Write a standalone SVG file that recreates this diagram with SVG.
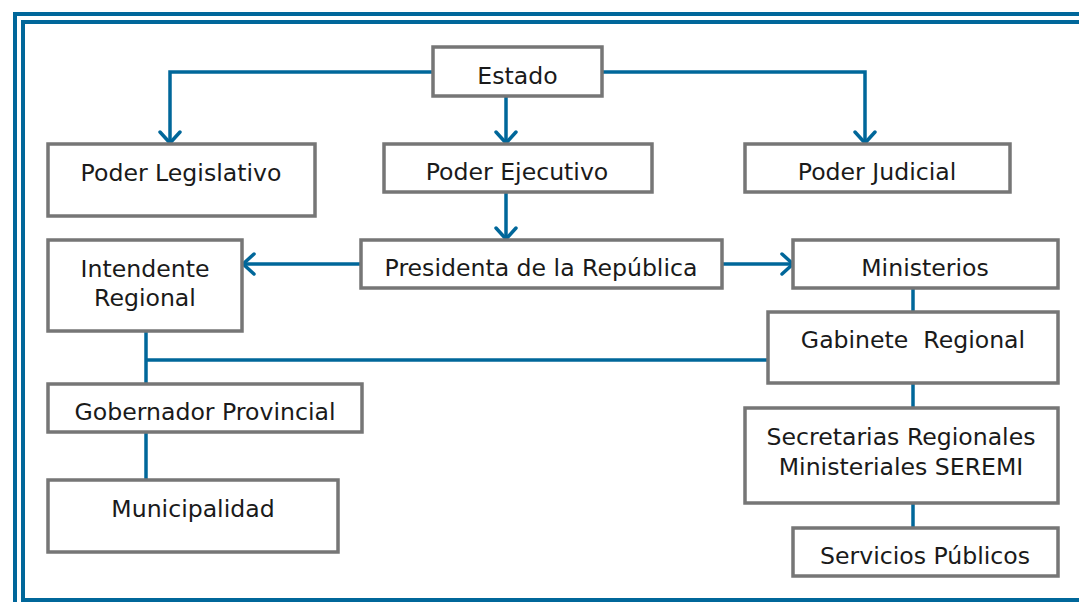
<svg xmlns="http://www.w3.org/2000/svg" width="1079" height="602" viewBox="0 0 1079 602">
<defs>
<style>
.frame{fill:none;stroke:#00679a;stroke-width:4}
.box{fill:#ffffff;stroke:#767676;stroke-width:3.5}
.lbl{font-family:"DejaVu Sans","Liberation Sans",sans-serif;font-size:23.6px;fill:#1a1a1a;text-anchor:middle}
.con{fill:none;stroke:#00679a;stroke-width:3.5}
.arr{marker-end:url(#ah)}
</style>
<marker id="ah" markerUnits="userSpaceOnUse" viewBox="0 0 16 24" refX="13" refY="12" markerWidth="16" markerHeight="24" orient="auto">
<path d="M2,2 L13,12 L2,22" fill="none" stroke="#00679a" stroke-width="3.5" stroke-linecap="round" stroke-linejoin="round"/>
</marker>
</defs>
<rect width="1079" height="602" fill="#ffffff"/>
<rect class="frame" x="15" y="14" width="1100" height="620"/>
<rect class="frame" x="23" y="22" width="1100" height="578"/>

<g id="connectors">
<path class="con arr" d="M433,72 H170 V143"/>
<path class="con arr" d="M506,97 V143"/>
<path class="con arr" d="M602,72 H865 V143"/>
<path class="con arr" d="M506,192 V239"/>
<path class="con arr" d="M361,264 H243"/>
<path class="con arr" d="M722,264 H793"/>
<path class="con" d="M913,288 V311"/>
<path class="con" d="M768,360 H146"/>
<path class="con" d="M146,331 V384"/>
<path class="con" d="M146,432 V479"/>
<path class="con" d="M913,384 V408"/>
<path class="con" d="M913,504 V527"/>
</g>

<g id="estado"><rect class="box" x="433" y="47" width="169" height="49"/><text class="lbl" x="517.5" y="84">Estado</text></g>
<g id="poder-legislativo"><rect class="box" x="48" y="144" width="267" height="72"/><text class="lbl" x="181" y="181">Poder Legislativo</text></g>
<g id="poder-ejecutivo"><rect class="box" x="384" y="144" width="268" height="48"/><text class="lbl" x="517" y="180">Poder Ejecutivo</text></g>
<g id="poder-judicial"><rect class="box" x="745" y="144" width="265" height="48"/><text class="lbl" x="877" y="180">Poder Judicial</text></g>
<g id="intendente-regional"><rect class="box" x="48" y="240" width="194" height="91"/><text class="lbl" x="145" y="277">Intendente</text><text class="lbl" x="145" y="306">Regional</text></g>
<g id="presidenta"><rect class="box" x="361" y="240" width="361" height="48"/><text class="lbl" x="541" y="276">Presidenta de la República</text></g>
<g id="ministerios"><rect class="box" x="793" y="240" width="265" height="48"/><text class="lbl" x="925" y="276">Ministerios</text></g>
<g id="gabinete-regional"><rect class="box" x="768" y="312" width="290" height="71"/><text class="lbl" x="913" y="348" xml:space="preserve">Gabinete  Regional</text></g>
<g id="gobernador-provincial"><rect class="box" x="48" y="384" width="314" height="48"/><text class="lbl" x="205" y="420">Gobernador Provincial</text></g>
<g id="seremi"><rect class="box" x="745" y="408" width="313" height="95"/><text class="lbl" x="901" y="445">Secretarias Regionales</text><text class="lbl" x="901" y="475">Ministeriales SEREMI</text></g>
<g id="municipalidad"><rect class="box" x="48" y="480" width="290" height="72"/><text class="lbl" x="193" y="517">Municipalidad</text></g>
<g id="servicios-publicos"><rect class="box" x="793" y="528" width="265" height="48"/><text class="lbl" x="925" y="564">Servicios Públicos</text></g>
</svg>
